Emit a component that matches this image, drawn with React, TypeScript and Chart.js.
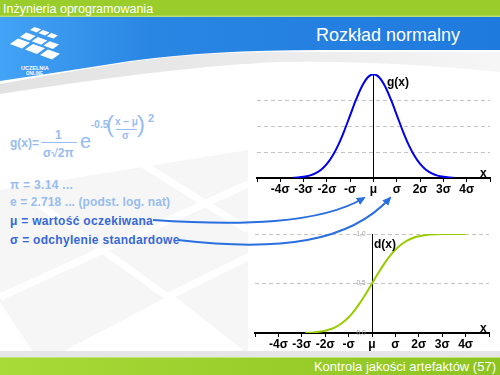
import React, { useEffect, useRef } from "react";
import { Chart, registerables } from "chart.js";
Chart.register(...registerables);

// ---- data ----
const sigmaTickLabels = ["", "-4σ", "-3σ", "-2σ", "-σ", "μ", "σ", "2σ", "3σ", "4σ", ""];
const pdfX = [-3.45, -3.25, -3, -2.75, -2.5, -2.25, -2, -1.75, -1.5, -1.25, -1, -0.75, -0.5, -0.25, 0, 0.25, 0.5, 0.75, 1, 1.25, 1.5, 1.75, 2, 2.25, 2.5, 2.75, 3, 3.25, 3.45];
const pdfY = [0.001, 0.002, 0.0044, 0.0091, 0.0175, 0.0317, 0.054, 0.0863, 0.1295, 0.1826, 0.242, 0.3011, 0.3521, 0.3867, 0.3989, 0.3867, 0.3521, 0.3011, 0.242, 0.1826, 0.1295, 0.0863, 0.054, 0.0317, 0.0175, 0.0091, 0.0044, 0.002, 0.001];
const cdfX = [-2.85, -2.5, -2.25, -2, -1.75, -1.5, -1.25, -1, -0.75, -0.5, -0.25, 0, 0.25, 0.5, 0.75, 1, 1.25, 1.5, 1.75, 2, 2.25, 2.5, 3, 3.5, 4];
const cdfY = [0.002, 0.006, 0.012, 0.023, 0.04, 0.067, 0.106, 0.159, 0.227, 0.309, 0.401, 0.5, 0.599, 0.691, 0.773, 0.841, 0.894, 0.933, 0.96, 0.977, 0.988, 0.994, 0.999, 1, 1];
const cdfYTickLabels = ["0,0", "0,5", "1,0"];

const FONT = '"Liberation Sans", Arial, Helvetica, sans-serif';
const LIGHT = "#98bcef";
const DARK = "#3567d8";

function xAxis() {
  return {
    type: "linear" as const,
    min: -5,
    max: 5,
    position: "bottom" as const,
    afterFit: (s: any) => {
      s.height = 22;
    },
    grid: { drawOnChartArea: false, drawTicks: true, tickLength: 4, color: "#000", tickColor: "#000" },
    border: { color: "#000", width: 2 },
    ticks: {
      stepSize: 1,
      autoSkip: false,
      maxRotation: 0,
      minRotation: 0,
      padding: 0,
      color: "#000",
      font: { family: FONT, size: 12, weight: "bold" as const },
      callback: (_v: any, i: number) => sigmaTickLabels[i],
    },
  };
}

function PdfChart() {
  const ref = useRef<HTMLCanvasElement>(null);
  useEffect(() => {
    const chart = new Chart(ref.current!, {
      type: "line",
      data: {
        datasets: [
          {
            data: pdfX.map((x, i) => ({ x, y: pdfY[i] })),
            borderColor: "#0000ee",
            borderWidth: 2,
            pointRadius: 0,
            cubicInterpolationMode: "monotone",
            fill: false,
          },
        ],
      },
      options: {
        animation: false,
        responsive: false,
        maintainAspectRatio: false,
        layout: { padding: { left: 7, right: 10, top: 14, bottom: 0 } },
        plugins: { legend: { display: false }, tooltip: { enabled: false } },
        scales: {
          x: xAxis() as any,
          y: {
            type: "linear",
            min: 0,
            max: 0.4,
            position: { x: 0 } as any,
            grid: {
              drawTicks: false,
              color: (c: any) => (c.tick && c.tick.value > 0.05 && c.tick.value < 0.35 ? "#c4c4c4" : "rgba(0,0,0,0)"),
              lineWidth: 1,
            },
            border: { color: "#000", width: 1, dash: [4, 3] },
            ticks: { display: false, stepSize: 0.1 },
          },
        },
      },
    });
    return () => chart.destroy();
  }, []);
  return (
    <canvas
      ref={ref}
      width={250}
      height={140}
      style={{ position: "absolute", left: 250, top: 60, width: 250, height: 140 }}
    />
  );
}

function CdfChart() {
  const ref = useRef<HTMLCanvasElement>(null);
  useEffect(() => {
    const chart = new Chart(ref.current!, {
      type: "line",
      data: {
        datasets: [
          {
            data: cdfX.map((x, i) => ({ x, y: cdfY[i] })),
            borderColor: "#99cc00",
            borderWidth: 2,
            pointRadius: 0,
            cubicInterpolationMode: "monotone",
            fill: false,
          },
        ],
      },
      options: {
        animation: false,
        responsive: false,
        maintainAspectRatio: false,
        layout: { padding: { left: 5, right: 11, top: 14, bottom: 0 } },
        plugins: { legend: { display: false }, tooltip: { enabled: false } },
        scales: {
          x: xAxis() as any,
          y: {
            type: "linear",
            display: true,
            min: 0,
            max: 1,
            position: { x: 0 } as any,
            grid: {
              drawTicks: true,
              tickLength: 0,
              color: (c: any) => (c.tick && c.tick.value > 0.25 ? "#c4c4c4" : "rgba(0,0,0,0)"),
              lineWidth: 1,
            },
            border: { color: "#000", width: 1, dash: [4, 3] },
            ticks: {
              display: true,
              stepSize: 0.5,
              padding: 4,
              color: "#a0a0a0",
              font: { family: FONT, size: 6.5 },
              callback: (_v: any, i: number) => cdfYTickLabels[i] + "\u2002\u2002",
            },
          },
        },
      },
    });
    return () => chart.destroy();
  }, []);
  return (
    <canvas
      ref={ref}
      width={250}
      height={135}
      style={{ position: "absolute", left: 250, top: 220, width: 250, height: 135 }}
    />
  );
}

function T(props: {
  x: number;
  cy: number;
  size: number;
  color: string;
  bold?: boolean;
  text: string;
  ls?: number;
  family?: string;
}) {
  return (
    <div
      style={{
        position: "absolute",
        left: props.x,
        top: props.cy - props.size / 2,
        fontSize: props.size,
        lineHeight: 1,
        height: props.size,
        fontFamily: props.family || FONT,
        fontWeight: props.bold ? "bold" : "normal",
        color: props.color,
        whiteSpace: "nowrap",
        letterSpacing: props.ls ? props.ls : 0,
      }}
    >
      {props.text}
    </div>
  );
}

function logoTiles() {
  const out: string[] = [];
  const O = [10, 44];
  const U = [10, -7];
  const V = [15, 5.5];
  for (let i = 0; i < 3; i++) {
    const s = 1 - 0.22 * i;
    for (let j = 0; j < 3; j++) {
      const bx = O[0] + i * U[0] + j * V[0] * s;
      const by = O[1] + i * U[1] + j * V[1] * s;
      const ku = 0.8 * s;
      const kv = 0.8 * s;
      const p = [
        [bx, by],
        [bx + U[0] * ku, by + U[1] * ku],
        [bx + U[0] * ku + V[0] * kv, by + U[1] * ku + V[1] * kv],
        [bx + V[0] * kv, by + V[1] * kv],
      ];
      out.push(p.map((q) => q[0].toFixed(1) + "," + q[1].toFixed(1)).join(" "));
    }
  }
  return out;
}

export default function App() {
  return (
    <div
      style={{
        position: "absolute",
        left: 0,
        top: 0,
        width: 500,
        height: 375,
        overflow: "hidden",
        background: "#fff",
        fontFamily: FONT,
      }}
    >
      <svg width={500} height={375} style={{ position: "absolute", left: 0, top: 0 }}>
        <defs>
          <linearGradient id="blue" x1="0" y1="0" x2="1" y2="0">
            <stop offset="0" stopColor="#43a3f5" />
            <stop offset="0.3" stopColor="#2a86e3" />
            <stop offset="1" stopColor="#1f7ade" />
          </linearGradient>
          <linearGradient id="green" x1="0" y1="0" x2="1" y2="0">
            <stop offset="0" stopColor="#a8da38" />
            <stop offset="1" stopColor="#8dc320" />
          </linearGradient>
          <linearGradient id="swoosh" x1="0" y1="0" x2="1" y2="0">
            <stop offset="0" stopColor="#e2e2e2" />
            <stop offset="0.6" stopColor="#ececec" />
            <stop offset="1" stopColor="#f6f6f6" />
          </linearGradient>
        </defs>
        {/* watermark tiles */}
        <polygon points="0,115 248,115 248,352 0,352" fill="#f6f6f6" />
        <polygon points="0,115 248,115 248,150 0,190" fill="#ffffff" />
        <line x1="0" y1="297" x2="248" y2="184" stroke="#fff" strokeWidth="7" />
        <line x1="30" y1="198" x2="168" y2="297" stroke="#fff" strokeWidth="7" />
        <line x1="165" y1="298" x2="250" y2="256" stroke="#fff" strokeWidth="7" />
        <line x1="170" y1="297" x2="240" y2="352" stroke="#fff" strokeWidth="7" />
        <line x1="120" y1="150" x2="248" y2="230" stroke="#fff" strokeWidth="7" />
        <polygon points="62,352 165,298 240,352" fill="#fff" />
        <polygon points="0,302 33,352 0,352" fill="#fff" />
        {/* header */}
        <path d="M0,84 Q60,73 130,62 Q210,50 320,52 L500,52 L500,72 Q380,60 280,62 Q180,66 0,94 Z" fill="url(#swoosh)" />
        <path d="M0,17 H500 V50 L320,50 Q210,50 130,61 Q60,72 0,81 Z" fill="url(#blue)" />
        <rect x="0" y="0" width="500" height="17" fill="#9acd2c" />
        <rect x="0" y="15.5" width="500" height="1.5" fill="#b9e070" />
        {logoTiles().map((p, i) => (
          <polygon key={i} points={p} fill="#ffffff" />
        ))}
        {/* footer */}
        <rect x="0" y="351" width="500" height="6" fill="#e6e6e6" />
        <rect x="0" y="357" width="500" height="18" fill="url(#green)" />
        <rect x="0" y="357" width="500" height="1" fill="#c2e57a" />
      </svg>

      <T x={3} cy={9} size={12.5} color="#ffffff" text="Inżynieria oprogramowania" />
      <T x={316} cy={35} size={18} color="#ffffff" text="Rozkład normalny" />
      <T x={21} cy={68.5} size={5.5} bold color="#ffffff" text="UCZELNIA" />
      <T x={26} cy={74.5} size={4.5} bold color="#ffffff" text="ONLINE" />
      <div
        style={{
          position: "absolute",
          right: 4,
          top: 359,
          fontSize: 13,
          lineHeight: "15px",
          color: "#fff",
          whiteSpace: "nowrap",
          fontFamily: FONT,
        }}
      >
        Kontrola jakości artefaktów (57)
      </div>

      {/* formula */}
      <T x={10} cy={143} size={12} bold color={LIGHT} text="g(x)=" />
      <T x={55} cy={135} size={12} bold color={LIGHT} text="1" />
      <div style={{ position: "absolute", left: 41, top: 141.5, width: 36, height: 1.5, background: LIGHT }} />
      <T x={43} cy={153} size={12} bold color={LIGHT} text="σ√2π" />
      <T x={80} cy={141} size={20} color={LIGHT} text="e" />
      <T x={91} cy={125} size={10} bold color={LIGHT} text="-0.5" />
      <T x={106} cy={124} size={24} color={LIGHT} text="(" />
      <T x={115} cy={122} size={10} bold color={LIGHT} text="x – μ" />
      <div style={{ position: "absolute", left: 116, top: 128.5, width: 21, height: 1, background: LIGHT }} />
      <T x={122} cy={136} size={10} bold color={LIGHT} text="σ" />
      <T x={137} cy={124} size={24} color={LIGHT} text=")" />
      <T x={148} cy={118} size={11} bold color={LIGHT} text="2" />

      <T x={10} cy={185} size={12} bold ls={0.3} color={LIGHT} text="π = 3.14 ..." />
      <T x={10} cy={201.5} size={12} bold ls={0.1} color={LIGHT} text="e  = 2.718 ... (podst. log. nat)" />
      <T x={10} cy={221} size={12} bold ls={0.3} color={DARK} text="μ = wartość oczekiwana" />
      <T x={10} cy={239.5} size={12} bold ls={0.3} color={DARK} text="σ = odchylenie standardowe" />

      <PdfChart />
      <CdfChart />

      <T x={387} cy={82} size={12} bold color="#000" text="g(x)" />
      <T x={480} cy={173} size={12} bold color="#000" text="x" />
      <T x={374} cy={244} size={12} bold color="#000" text="d(x)" />
      <T x={480} cy={328} size={12} bold color="#000" text="x" />

      <svg width={500} height={375} style={{ position: "absolute", left: 0, top: 0, pointerEvents: "none" }}>
        <defs>
          <marker id="ah" markerWidth="9" markerHeight="8" refX="7" refY="4" orient="auto" markerUnits="userSpaceOnUse">
            <path d="M0,0 L9,4 L0,8 z" fill="#2a6fdf" />
          </marker>
        </defs>
        <path d="M153,220 C240,226 320,224 364,198" stroke="#2a6fdf" strokeWidth="2" fill="none" markerEnd="url(#ah)" />
        <path d="M178,240 C280,252 350,242 390,198" stroke="#2a6fdf" strokeWidth="2" fill="none" markerEnd="url(#ah)" />
      </svg>
    </div>
  );
}
